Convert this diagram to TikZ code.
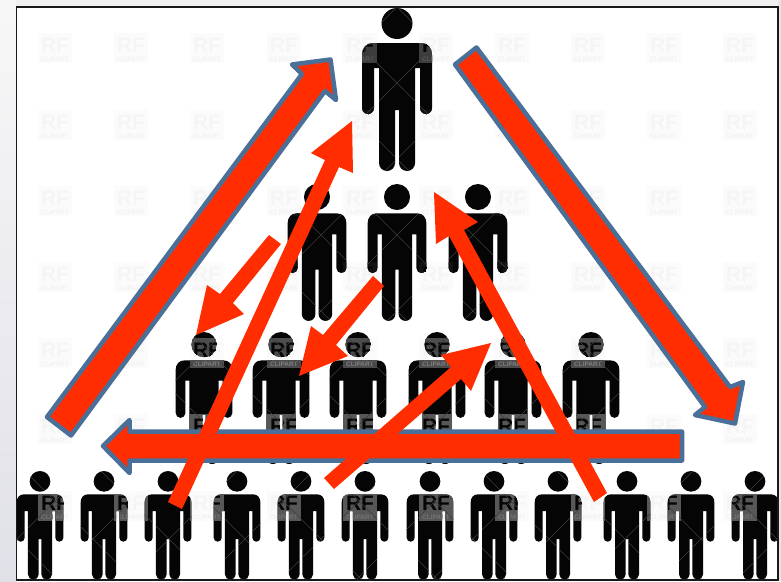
\documentclass[tikz,border=0pt]{standalone}
\usepackage{fontspec}
\setmainfont{Liberation Sans}
\definecolor{arrowred}{HTML}{FF2D00}
\definecolor{arrowblue}{HTML}{4A6F99}
\definecolor{figblack}{HTML}{050505}
\newcommand{\figpath}[3]{{[shift={(#1,-#2)},scale=#3] (0,-15.5) circle (15.5) (-24,-35) -- (24,-35) .. controls (31,-35) and (35,-40) .. (35,-47) -- (35,-100) arc (0:-180:6) -- (23,-60) -- (18,-60) -- (18,-155) arc (0:-180:8) -- (2,-102) -- (-2,-102) -- (-2,-155) arc (0:-180:8) -- (-18,-60) -- (-23,-60) -- (-23,-100) arc (0:-180:6) -- (-35,-47) .. controls (-35,-40) and (-31,-35) .. (-24,-35) -- cycle}}
\newcommand{\allfigs}{\figpath{397}{8}{1} foreach \px in {317,397,478} {\figpath{\px}{184}{0.84}} foreach \px in {204,281,358,437,513,591} {\figpath{\px}{332}{0.81}} foreach \px in {40,104,168,237,301,365,430,494,558,627,691,755} {\figpath{\px}{471}{0.667}}}
\tikzset{
  wide/.style = {fill=arrowred, draw=arrowblue, line width=4.5pt, line join=round},
  slim/.style = {fill=arrowred},
  rfbig/.style = {font=\fontsize{21}{21}\bfseries, inner sep=0pt},
  rfsmall/.style = {font=\fontsize{6.5}{6.5}\bfseries, inner sep=0pt}
}
\begin{document}
\begin{tikzpicture}[x=1pt, y=1pt]
\useasboundingbox (0,0) rectangle (781,-581);
\shade[top color=black!3, bottom color=blue!25!black!12] (0,0) rectangle (16,-581);
\fill[black!6] (16,0) rectangle (781,-7);
\fill[black!10] (778,0) rectangle (781,-581);
\fill[white] (16.5,-7) rectangle (778,-580);
\foreach \wx in {55,131,207,284,360,436,512,588,664,740} {
  \foreach \wy in {48,125,201,277,353,429,506} {
    \fill[black!1.5] (\wx-17,-\wy+15) rectangle (\wx+17,-\wy-15);
    \node[rfbig, text=black!4] (rf\wx\wy) at (\wx,-\wy+3) {RF};
    \node[rfsmall, text=black!5] (clip\wx\wy) at (\wx,-\wy-11) {CLIPART};
  }
}
\begin{scope}
\clip (16.5,-7) rectangle (778,-580);
\fill[figblack] \allfigs;
\clip \allfigs;
\foreach \wy/\wg/\wt in {48/24/35,125/7/10,201/7/10,277/7/10,353/30/50,429/34/45,506/34/45} {
  \foreach \wx in {55,131,207,284,360,436,512,588,664,740} {
    \fill[white!\wg!black] (\wx-17,-\wy+15) rectangle (\wx+17,-\wy-15);
    \node[rfbig, text=figblack] (rfa\wx\wy) at (\wx,-\wy+3) {RF};
    \node[rfsmall, text=white!\wt!black] (clipa\wx\wy) at (\wx,-\wy-11) {CLIPART};
  }
}
\foreach \k in {-12,...,7}
  \draw[white!24!black, line width=0.5pt] (0,314+76*\k) -- (781,-467+76*\k);
\foreach \k in {-7,...,12}
  \draw[white!24!black, line width=0.5pt] (0,-480-76*\k) -- (781,301-76*\k);
\end{scope}
\draw[black!90, line width=1.3pt] (16.5,-7) rectangle (778,-580);
\draw[wide] (47,-417) -- (302,-74) -- (292,-64.5) -- (330.5,-59.5) -- (336,-100) -- (325,-91) -- (71,-435.5) -- cycle;
\draw[wide] (455,-64.5) -- (476.5,-47.5) -- (730,-387) -- (743,-382) -- (735,-423.5) -- (695,-415) -- (705,-407) -- cycle;
\draw[wide] (682,-431.5) -- (129.5,-431.5) -- (129.5,-420) -- (103,-446) -- (129.5,-473) -- (129.5,-460.5) -- (682,-460.5) -- cycle;
\fill[slim] (168,-502) -- (325,-160) -- (311,-153) -- (352,-121) -- (353,-173) -- (339,-167) -- (182,-509) -- cycle;
\fill[slim] (269,-235) -- (220,-294) -- (207,-285) -- (196,-335) -- (244,-314) -- (233,-303) -- (281,-244) -- cycle;
\fill[slim] (373,-276) -- (323,-335) -- (311,-326) -- (299,-376) -- (348,-356) -- (336,-345) -- (384,-286) -- cycle;
\fill[slim] (324,-478) -- (451,-367) -- (441,-355) -- (491,-343) -- (471,-391) -- (461,-379) -- (334,-489) -- cycle;
\fill[slim] (607,-493) -- (464,-230) -- (478,-222) -- (434,-192) -- (436,-244) -- (449,-236) -- (594,-502) -- cycle;
\end{tikzpicture}
\end{document}
